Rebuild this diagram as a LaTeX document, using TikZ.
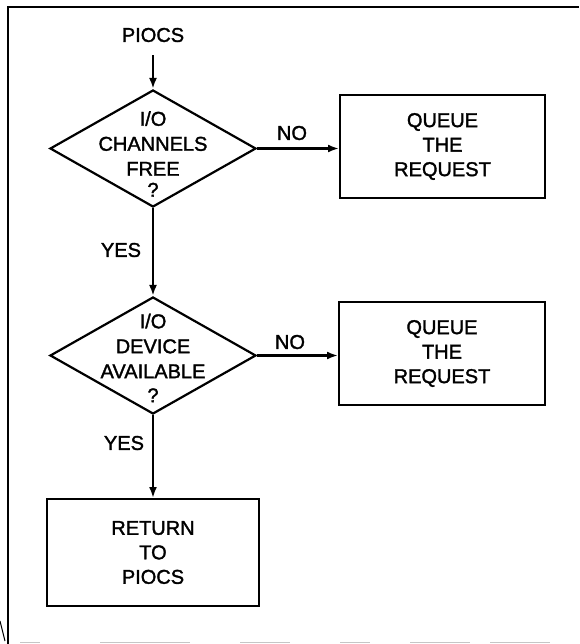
\documentclass[tikz,border=0pt]{standalone}
\usepackage{fontspec}
\setmainfont{Liberation Sans}
\newfontfamily\chartfont[FakeBold=1.6]{Liberation Sans}
\usetikzlibrary{shapes.geometric,arrows.meta}

\begin{document}
\begin{tikzpicture}[x=1pt,y=-1pt,
  txt/.style={font=\chartfont\fontsize{20}{25}\selectfont, align=center, inner sep=0pt},
  decision/.style={diamond, draw, line width=2.2pt, inner sep=0pt,
    minimum width=206pt, minimum height=117pt},
  process/.style={rectangle, draw, line width=2pt, inner sep=0pt,
    font=\chartfont\fontsize{20}{24.5}\selectfont, align=center},
  arr/.style={line width=2.2pt, -{Latex[length=11pt,width=8pt]}},
  frame/.style={line width=1.4pt}]

\fill[white] (0,0) rectangle (579,644);
\useasboundingbox (0,0) rectangle (579,644);

% page frame: top and left edges only
\draw[frame] (8,644) -- (8,7) -- (579,7);
\draw[line width=0.8pt, gray!45, dash pattern=on 20pt off 60pt on 90pt off 50pt on 50pt off 50pt on 30pt off 40pt on 60pt]
  (20,642) -- (579,642);
\draw[line width=1pt] (0,621) -- (5,641);

% entry
\node[txt] (pi) at (153,35) {PIOCS};

% first decision
\node[decision] (d1) at (153,148.5) {};
\node[txt] (d1t) at (153,154) {I/O\\CHANNELS\\FREE\\[-4pt]?};
\node[process, minimum width=205pt, minimum height=103pt] (q1) at (442.5,146.5)
  {QUEUE\\THE\\REQUEST};

% second decision
\node[decision] (d2) at (153,355.5) {};
\node[txt] (d2t) at (153,358) {I/O\\DEVICE\\AVAILABLE\\[-1pt]?};
\node[process, minimum width=206pt, minimum height=103pt] (q2) at (442,353.5)
  {QUEUE\\THE\\REQUEST};

% exit
\node[process, minimum width=212pt, minimum height=107pt] (ret) at (153,552.5)
  {RETURN\\TO\\PIOCS};

% connectors
\draw[arr] ([yshift=-13pt]pi.south) -- (d1.north);
\draw[arr] (d1.east) -- (d1.east -| q1.west);
\node[txt] (no1) at (292,133) {NO};
\draw[arr] (d1.south) -- (d2.north);
\node[txt] (yes1) at (121,250) {YES};
\draw[arr] (d2.east) -- (d2.east -| q2.west);
\node[txt] (no2) at (290,342) {NO};
\draw[arr] (d2.south) -- (ret.north);
\node[txt] (yes2) at (124,443) {YES};

\end{tikzpicture}
\end{document}
